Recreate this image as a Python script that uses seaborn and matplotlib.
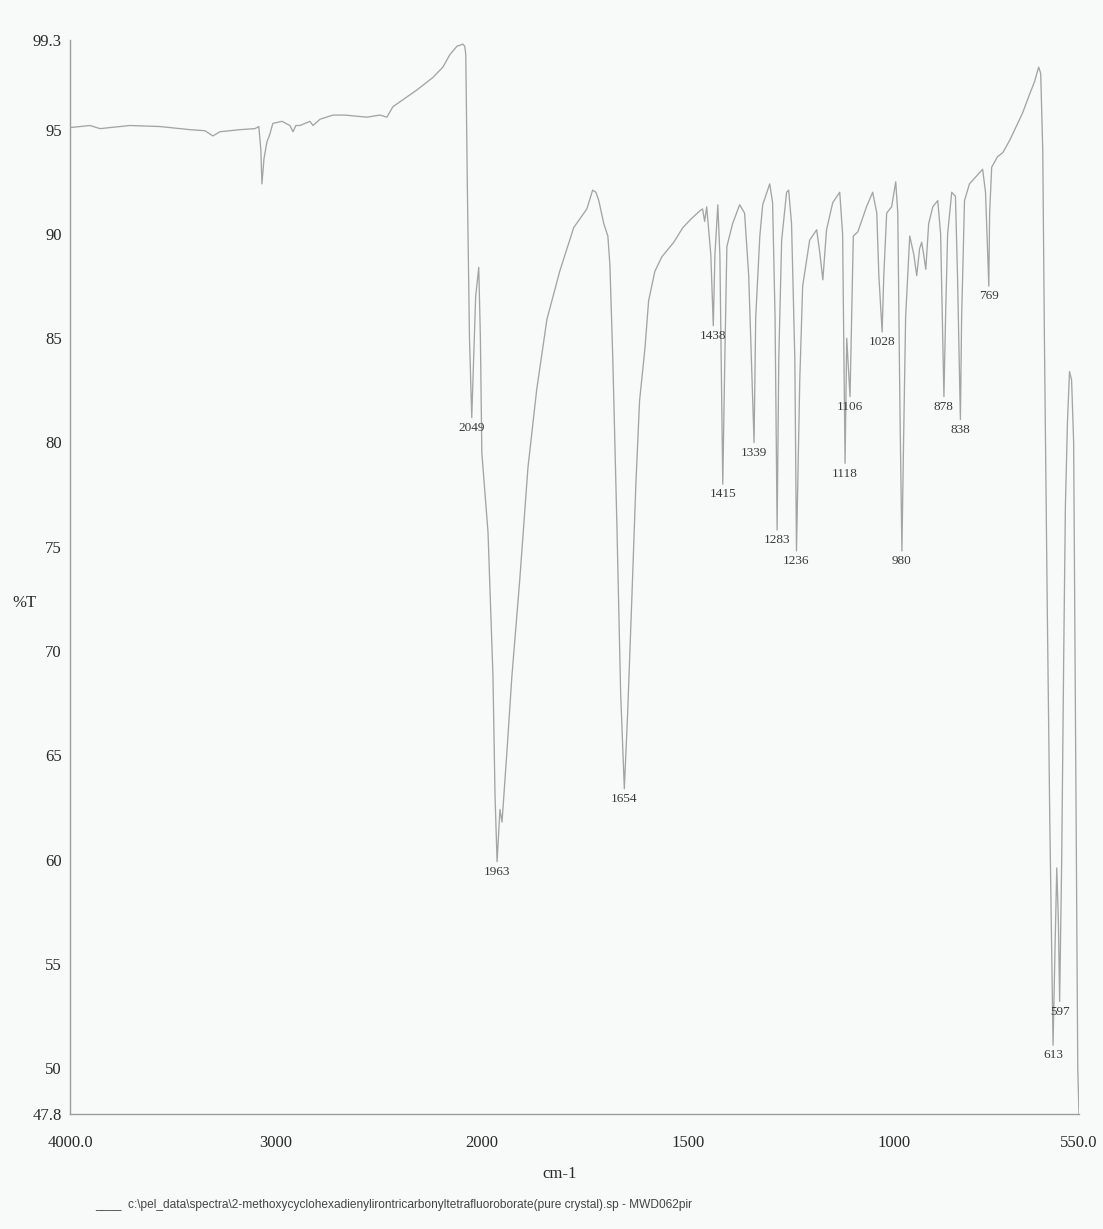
import numpy as np
import pandas as pd
import matplotlib
matplotlib.use("Agg")
import matplotlib.pyplot as plt
import seaborn as sns

# IR spectrum, %T versus wavenumber (cm-1)
wavenumber = [
    4000, 3903, 3854, 3709, 3563, 3417, 3345, 3306, 3272, 3175, 3102, 3083, 3073, 3068, 3058,
    3044, 3029, 3015, 2971, 2932, 2917, 2903, 2883, 2835, 2820, 2786, 2723, 2665, 2558, 2495,
    2461, 2432, 2374, 2316, 2238, 2189, 2155, 2121, 2092, 2083, 2078, 2070, 2060, 2049, 2040,
    2030, 2015, 2007, 2000, 1985, 1973, 1968, 1963, 1956, 1951, 1939, 1927, 1908, 1888, 1867,
    1842, 1811, 1777, 1745, 1731, 1723, 1716, 1704, 1694, 1689, 1682, 1672, 1663, 1654, 1646,
    1636, 1626, 1617, 1604, 1595, 1580, 1563, 1534, 1512, 1493, 1471, 1464, 1459, 1454, 1444,
    1438, 1434, 1427, 1422, 1415, 1410, 1405, 1391, 1374, 1362, 1352, 1339, 1335, 1325, 1318,
    1301, 1294, 1288, 1283, 1279, 1272, 1260, 1255, 1248, 1240, 1236, 1228, 1221, 1204, 1187,
    1180, 1172, 1163, 1148, 1131, 1124, 1118, 1114, 1106, 1102, 1098, 1087, 1066, 1051, 1041,
    1036, 1028, 1024, 1017, 1005, 995, 990, 985, 980, 976, 971, 961, 951, 944, 937,
    932, 927, 922, 915, 905, 893, 886, 881, 878, 874, 869, 859, 850, 845, 838,
    835, 828, 816, 784, 777, 769, 767, 762, 748, 735, 718, 687, 670, 658, 648,
    643, 638, 634, 627, 621, 613, 609, 604, 600, 597, 592, 587, 583, 578, 573,
    568, 563, 558, 553, 550,
]
transmittance = [
    95.1, 95.2, 95.05, 95.2, 95.15, 95.0, 94.95, 94.7, 94.9, 95.0, 95.05, 95.15, 94.0, 92.4, 93.6,
    94.4, 94.8, 95.3, 95.4, 95.2, 94.9, 95.2, 95.2, 95.4, 95.2, 95.5, 95.7, 95.7, 95.6, 95.7,
    95.6, 96.1, 96.5, 96.9, 97.5, 98.0, 98.6, 99.0, 99.1, 99.0, 98.6, 92.0, 85.0, 81.2, 84.0,
    87.0, 88.4, 85.0, 79.5, 75.7, 68.8, 63.1, 59.9, 62.4, 61.8, 65.2, 68.8, 73.4, 78.8, 82.5,
    85.9, 88.2, 90.3, 91.2, 92.1, 92.0, 91.6, 90.5, 89.9, 88.5, 84.0, 76.0, 68.0, 63.4, 67.0,
    72.4, 78.0, 82.0, 84.5, 86.8, 88.2, 88.9, 89.6, 90.3, 90.7, 91.1, 91.2, 90.6, 91.3, 89.0,
    85.6, 89.0, 91.4, 89.0, 78.0, 84.0, 89.4, 90.5, 91.4, 91.0, 88.0, 80.0, 86.0, 89.9, 91.4,
    92.4, 91.5, 86.0, 75.8, 84.0, 89.7, 92.0, 92.1, 90.5, 84.0, 74.8, 83.0, 87.5, 89.7, 90.2,
    89.2, 87.8, 90.2, 91.5, 92.0, 90.0, 79.0, 85.0, 82.2, 86.0, 89.9, 90.1, 91.3, 92.0, 91.0,
    88.0, 85.3, 88.0, 91.0, 91.3, 92.5, 91.0, 82.0, 74.8, 80.0, 86.0, 89.9, 89.0, 88.0, 89.3,
    89.6, 89.0, 88.3, 90.5, 91.3, 91.6, 90.0, 85.0, 82.2, 86.0, 90.0, 92.0, 91.8, 88.0, 81.1,
    86.0, 91.6, 92.4, 93.1, 92.0, 87.5, 91.0, 93.2, 93.7, 93.9, 94.5, 95.8, 96.7, 97.3, 98.0,
    97.7, 94.0, 85.0, 72.0, 62.0, 51.1, 55.0, 59.6, 57.0, 53.2, 60.0, 70.0, 77.0, 81.0, 83.4,
    83.0, 80.0, 65.0, 50.0, 47.8,
]
assert len(wavenumber) == len(transmittance)

peak_labels = [2049, 1963, 1654, 1438, 1415, 1339, 1283, 1236, 1118, 1106,
               1028, 980, 878, 838, 769, 613, 597]

x_ticks = [4000, 3000, 2000, 1500, 1000, 550]
x_tick_labels = ["4000.0", "3000", "2000", "1500", "1000", "550.0"]
y_ticks = [99.3, 95, 90, 85, 80, 75, 70, 65, 60, 55, 50, 47.8]
y_tick_labels = ["99.3", "95", "90", "85", "80", "75", "70", "65", "60", "55", "50", "47.8"]

footer = ("____  c:\\pel_data\\spectra\\2-methoxycyclohexadienylirontricarbonyl"
          "tetrafluoroborate(pure crystal).sp - MWD062pir")

sns.set_style("white")
serif = ["Liberation Serif", "DejaVu Serif"]
narrow = ["Liberation Sans Narrow", "Liberation Sans", "DejaVu Sans"]
plt.rcParams["font.family"] = serif

df = pd.DataFrame({"cm-1": wavenumber, "%T": transmittance})

W, H = 1103, 1229
fig = plt.figure(figsize=(W / 100, H / 100), dpi=100)
bg = "#f8f9f9"
fig.patch.set_facecolor(bg)
ax = fig.add_axes([70 / W, 1 - 1114 / H, 1009 / W, 1074 / H])
ax.set_facecolor(bg)


# abscissa is expanded two-fold below 2000 cm-1 (monotonic increasing map)
def fwd(w):
    w = np.asarray(w, dtype=float)
    return np.where(w >= 2000, w, 2000 - 2 * (2000 - w))


def inv(u):
    u = np.asarray(u, dtype=float)
    return np.where(u >= 2000, u, 2000 - (2000 - u) / 2)


ax.set_xscale("function", functions=(fwd, inv))

line_color = "#a4a4a4"
sns.lineplot(data=df, x="cm-1", y="%T", ax=ax, color=line_color, lw=0.95,
             estimator=None, sort=False)

ax.set_xlim(4000, 550)
ax.set_ylim(47.8, 99.3)

# peak annotations placed just beneath each band minimum
wn_asc = np.array(wavenumber[::-1], dtype=float)
t_asc = np.array(transmittance[::-1], dtype=float)
for pk in peak_labels:
    t_min = np.interp(pk, wn_asc, t_asc)
    ax.text(pk, t_min - 0.2, str(pk), ha="center", va="top",
            fontsize=9.5, color="#3a3a3a", family=serif)

ax.set_xticks(x_ticks)
ax.set_xticklabels(x_tick_labels)
ax.set_yticks(y_ticks)
ax.set_yticklabels(y_tick_labels)
ax.minorticks_off()
ax.tick_params(axis="both", which="major", direction="out", length=3, width=0.8,
               color="#999999", labelcolor="#2a2a2a", labelsize=12)
ax.tick_params(axis="x", pad=12)
ax.tick_params(axis="y", pad=3)

for side in ("top", "right"):
    ax.spines[side].set_visible(False)
for side in ("left", "bottom"):
    ax.spines[side].set_color("#9c9c9c")
    ax.spines[side].set_linewidth(1.0)

ax.set_xlabel("cm-1", fontsize=12, color="#2a2a2a")
ax.set_ylabel("%T", fontsize=12, color="#2a2a2a", rotation=0, va="center", ha="center")
ax.xaxis.set_label_coords((560 - 70) / 1009, (1114 - 1166) / 1074)
ax.yaxis.set_label_coords((24 - 70) / 1009, (1114 - 603) / 1074)

fig.text(95 / W, 1 - 1205 / H, footer, fontsize=8.6, color="#444444",
         family=narrow, ha="left", va="center")

fig.savefig("out.png", dpi=100, facecolor=bg)
